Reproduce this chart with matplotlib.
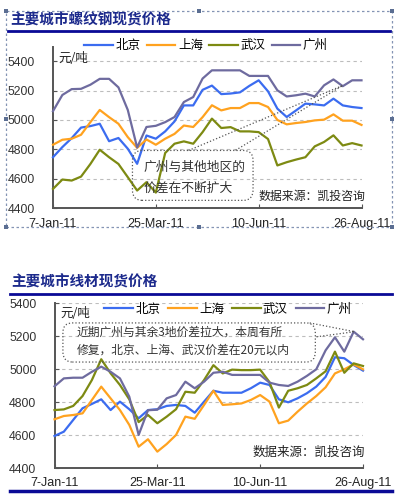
#Rebar and wire rod spot prices in four cities, weekly 2011

import pandas as pd
import matplotlib
matplotlib.use("Agg")
import matplotlib.pyplot as plt
from matplotlib.patches import FancyBboxPatch, Rectangle, Polygon

plt.rcParams['font.family'] = ['Noto Sans CJK SC', 'DejaVu Sans']

#weekly dates, Friday
weeks = pd.date_range('2011-01-07', periods=34, freq='7D')
tick_idx = [0, 11, 22, 33]
tick_labels = [f"{d.day}-{d:%b-%y}" for d in weeks[tick_idx]]
cities = ['北京', '上海', '武汉', '广州']
y_ticks = [4400, 4600, 4800, 5000, 5200, 5400]

#rebar (螺纹钢), yuan/ton
rebar_bj = [4746, 4815, 4876, 4948, 4958, 4974, 4855, 4877, 4804, 4701, 4894, 4872,
            4922, 4990, 5099, 5099, 5205, 5234, 5176, 5180, 5188, 5232, 5270, 5195,
            5077, 5020, 5065, 5111, 5106, 5099, 5145, 5099, 5088, 5081]
rebar_sh = [4831, 4865, 4872, 4899, 4985, 5068, 5019, 4974, 4883, 4810, 4867, 4831,
            4872, 4905, 4962, 4952, 5019, 5100, 5065, 5081, 5081, 5115, 5115, 5088,
            5000, 4970, 4979, 4986, 4997, 5002, 5038, 4995, 4995, 4966]
rebar_wh = [4530, 4594, 4587, 4614, 4700, 4797, 4746, 4700, 4610, 4519, 4576, 4505,
            4775, 4838, 4854, 4838, 4917, 5009, 4945, 4951, 4922, 4922, 4917, 4870,
            4690, 4712, 4730, 4746, 4820, 4850, 4895, 4826, 4842, 4826]
rebar_gz = [5060, 5170, 5210, 5212, 5240, 5280, 5280, 5222, 5068, 4812, 4952, 4960,
            4985, 5020, 5122, 5156, 5282, 5338, 5338, 5338, 5338, 5300, 5300, 5300,
            5202, 5160, 5168, 5179, 5160, 5236, 5276, 5230, 5270, 5270]

#wire rod (线材), yuan/ton
wire_bj = [4596, 4622, 4693, 4764, 4790, 4818, 4753, 4804, 4758, 4703, 4753, 4758,
           4778, 4784, 4778, 4737, 4804, 4870, 4858, 4858, 4858, 4885, 4919, 4905,
           4818, 4800, 4824, 4855, 4895, 4954, 5073, 5067, 5026, 4992]
wire_sh = [4697, 4717, 4723, 4733, 4814, 4895, 4824, 4753, 4663, 4531, 4576, 4501,
           4547, 4602, 4713, 4700, 4784, 4870, 4784, 4788, 4793, 4814, 4844, 4804,
           4673, 4689, 4743, 4793, 4838, 4891, 4975, 5000, 5030, 5000]
wire_wh = [4753, 4757, 4778, 4838, 4935, 5061, 4976, 4905, 4818, 4680, 4723, 4673,
           4713, 4758, 4864, 4858, 4935, 5025, 4975, 4998, 4995, 4995, 4998, 4922,
           4768, 4870, 4885, 4905, 4945, 4988, 5107, 4979, 5036, 5020]
wire_gz = [4897, 4945, 4949, 4949, 4985, 5016, 4985, 4945, 4834, 4602, 4752, 4755,
           4824, 4844, 4925, 4885, 4925, 4979, 4985, 4966, 4966, 4966, 4966, 4919,
           4905, 4899, 4925, 4960, 5000, 5115, 5194, 5107, 5228, 5182]

colors = ['#3b6cf0', '#ffa21f', '#7d8a12', '#6e6b9f']
navy = '#1c2a8c'
W, H = 397, 497

def fx(x):  #pixel -> figure fraction
	return x / W

def fy(y):
	return 1 - y / H

fig = plt.figure(figsize=(W / 100, H / 100), dpi=100)

def price_axes(rect, series, ylim, xpad):
	ax = fig.add_axes(rect)
	x = list(range(len(weeks)))
	lines = []
	for vals, c, name in zip(series, colors, cities):
		ln, = ax.plot(x, vals, color=c, lw=1.6, label=name, clip_on=False, zorder=3)
		lines.append(ln)
	ax.set_xlim(0, len(weeks) - 1)
	ax.set_ylim(*ylim)
	ax.set_yticks(y_ticks)
	ax.set_xticks(tick_idx)
	ax.set_xticklabels(tick_labels, family='Liberation Sans', fontsize=9, color='#222222')
	ax.set_yticklabels([str(v) for v in y_ticks], family='Liberation Sans', fontsize=8.8, color='#333333')
	ax.tick_params(axis='y', direction='in', length=3, pad=13, color='#555555')
	ax.tick_params(axis='x', direction='in', length=3, pad=xpad, color='#555555')
	for s in ['top', 'right']:
		ax.spines[s].set_visible(False)
	for s in ['left', 'bottom']:
		ax.spines[s].set_color('#555555')
		ax.spines[s].set_linewidth(1.4)
	for v in y_ticks[1:]:
		ax.axhline(v, color='#bdbdbd', lw=0.8, ls=(0, (3, 3)), zorder=1)
	ax.patch.set_alpha(0)
	return ax, lines

# ---- top chart: rebar ----
ax1, lines1 = price_axes([fx(53), fy(208), fx(361.5) - fx(53), fy(47) - fy(208)],
                         [rebar_bj, rebar_sh, rebar_wh, rebar_gz], (4400, 5497), 7)
fig.text(fx(10), fy(20), '主要城市螺纹钢现货价格', fontsize=10.5, fontweight='bold',
         color=navy, va='center', ha='left')
fig.add_artist(plt.Line2D([fx(8), fx(390)], [fy(31), fy(31)], color='#0a0a96', lw=2))
fig.legend(handles=lines1, loc='center', bbox_to_anchor=(fx(206), fy(45.5)), ncol=4,
           frameon=False, fontsize=9, handlelength=2.3, handletextpad=0.2,
           columnspacing=0.5, borderaxespad=0, borderpad=0)
ax1.text(0.6, 5420, '元/吨', fontsize=9, color='#222222', va='center')

#callout box with wedge
ax1.add_patch(FancyBboxPatch((8.5, 4452), 12.9, 340,
                             boxstyle='round,pad=0,rounding_size=1.0',
                             mutation_aspect=70, fill=False, ls=':', lw=0.9,
                             ec='#555555', clip_on=False, zorder=4))
ax1.add_patch(Polygon([(14.5, 4792), (31.0, 5235), (19.5, 4792)], closed=False,
                      fill=False, ls=':', lw=0.9, ec='#555555', zorder=4))
ax1.text(9.7, 4678, '广州与其他地区的', fontsize=9.2, color='#333333', va='center')
ax1.text(9.7, 4533, '价差在不断扩大', fontsize=9.2, color='#333333', va='center')
ax1.text(22.0, 4478, '数据来源：凯投咨询', fontsize=8.6, color='#222222', va='center',
         clip_on=False, zorder=5)

#dashed selection frame with handles
fig.add_artist(Rectangle((fx(6), fy(227)), fx(392) - fx(6), fy(11) - fy(227),
                         transform=fig.transFigure, fill=False, ls=(0, (2, 2)),
                         lw=0.9, ec='#8494b4'))
for hx, hy in [(6, 11), (199, 11), (392, 11), (6, 119), (392, 119), (6, 227), (199, 227), (392, 227)]:
	fig.add_artist(Rectangle((fx(hx - 2), fy(hy + 2)), fx(4), 4 / H,
	                         transform=fig.transFigure, fc='#5b6e92', ec='none'))

# ---- bottom chart: wire rod ----
ax2, lines2 = price_axes([fx(54.5), fy(468.3), fx(363) - fx(54.5), fy(303.3) - fy(468.3)],
                         [wire_bj, wire_sh, wire_wh, wire_gz], (4400, 5400), 6)
fig.text(fx(11), fy(282), '主要城市线材现货价格', fontsize=10.5, fontweight='bold',
         color=navy, va='center', ha='left')
fig.add_artist(plt.Line2D([fx(10), fx(392)], [fy(293.5), fy(293.5)], color='#0a0a96', lw=2))
fig.add_artist(plt.Line2D([fx(10), fx(392)], [fy(490.5), fy(490.5)], color='#0a0a96', lw=2.5))
fig.legend(handles=lines2, loc='center', bbox_to_anchor=(fx(228), fy(309)), ncol=4,
           frameon=False, fontsize=9, handlelength=2.3, handletextpad=0.2,
           columnspacing=0.6, borderaxespad=0, borderpad=0)
ax2.text(0.6, 5341, '元/吨', fontsize=9, color='#222222', va='center')

ax2.add_patch(FancyBboxPatch((0.9, 5044), 27.0, 237,
                             boxstyle='round,pad=0,rounding_size=1.0',
                             mutation_aspect=60, fill=False, ls=':', lw=0.9,
                             ec='#555555', clip_on=False, zorder=4))
ax2.add_patch(Polygon([(27.3, 5281), (32.1, 5228), (27.9, 5196)], closed=False,
                      fill=False, ls=':', lw=0.9, ec='#555555', zorder=4))
ax2.text(2.35, 5228, '近期广州与其余3地价差拉大，本周有所', fontsize=8.5,
         color='#333333', va='center')
ax2.text(2.35, 5117, '修复，北京、上海、武汉价差在20元以内', fontsize=8.5,
         color='#333333', va='center')
ax2.text(21.2, 4495, '数据来源：凯投咨询', fontsize=9, color='#222222', va='center',
         clip_on=False, zorder=5)

fig.savefig('out.png', dpi=100)
